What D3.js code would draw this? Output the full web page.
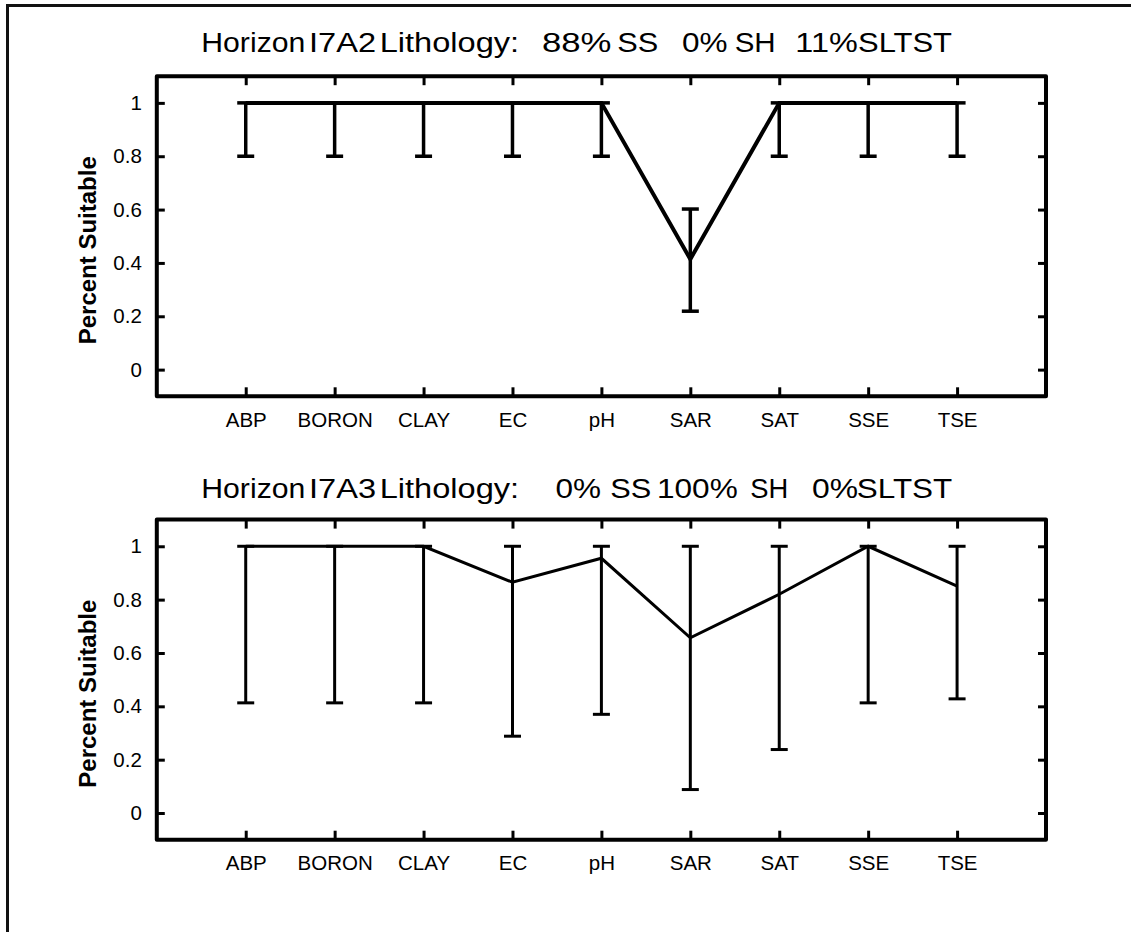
<!DOCTYPE html>
<html>
<head>
<meta charset="utf-8">
<script src="https://cdn.jsdelivr.net/npm/d3@7"></script>
<style>
  html, body { margin: 0; padding: 0; background: #fff; }
  svg { display: block; }
  text { font-family: "Liberation Sans", Arial, sans-serif; fill: #000; }
</style>
</head>
<body>
<svg id="chart" width="1131" height="932"></svg>
<script>
// ---- data ----
const categories = ["ABP", "BORON", "CLAY", "EC", "pH", "SAR", "SAT", "SSE", "TSE"];
const yTickValues = [0, 0.2, 0.4, 0.6, 0.8, 1];
const yTickLabels = ["0", "0.2", "0.4", "0.6", "0.8", "1"];
const yAxisTitle = "Percent Suitable";

// Horizon I7A2
const i7a2Title = ["Horizon", "I7A2", "Lithology:", "88%", "SS", "0%", "SH", "11%", "SLTST"];
const i7a2Mean  = [1, 1, 1, 1, 1, 0.414, 1, 1, 1];
const i7a2Lower = [0.8, 0.8, 0.8, 0.8, 0.8, 0.219, 0.8, 0.8, 0.8];
const i7a2Upper = [1, 1, 1, 1, 1, 0.602, 1, 1, 1];

// Horizon I7A3
const i7a3Title = ["Horizon", "I7A3", "Lithology:", "0%", "SS", "100%", "SH", "0%", "SLTST"];
const i7a3Mean  = [1, 1, 1, 0.865, 0.955, 0.657, 0.820, 1, 0.851];
const i7a3Lower = [0.413, 0.413, 0.413, 0.288, 0.370, 0.088, 0.238, 0.413, 0.428];
const i7a3Upper = [1, 1, 1, 1, 1, 1, 1, 1, 1];

// ---- layout ----
const svg = d3.select("#chart");
const plotLeft = 156.8, plotRight = 1046;
const plotHeight = 320.1;
const capHalf = 8.5;

// title words are laid out in fixed columns (start x, run width)
const panels = [
  { words: i7a2Title,
    wordX: [201.3, 309, 379.7, 542, 617.3, 682, 734.7, 795.3, 858],
    wordW: [104, 67, 139.5, 69.5, 41, 45.5, 41, 62.4, 94],
    titleY: 52.3, top: 76.2, mean: i7a2Mean, lower: i7a2Lower, upper: i7a2Upper,
    lineWidth: 4, barWidth: 3.5 },
  { words: i7a3Title,
    wordX: [201.3, 309, 379.7, 555.5, 610.2, 657, 750.2, 812, 856.8],
    wordW: [104, 67, 139.5, 45.5, 41, 80.7, 38, 46, 95.5],
    titleY: 497.7, top: 519.6, mean: i7a3Mean, lower: i7a3Lower, upper: i7a3Upper,
    lineWidth: 3, barWidth: 3 }
];

// outer page frame (left and top edges)
svg.append("path")
  .attr("d", "M7.5,932 V5.5 H1131")
  .attr("fill", "none")
  .attr("stroke", "#111")
  .attr("stroke-width", 3);

const x = d3.scalePoint().domain(categories).range([plotLeft, plotRight]).padding(1);

panels.forEach(p => {
  const bottom = p.top + plotHeight;
  const y = d3.scaleLinear().domain([-0.1, 1.1]).range([bottom, p.top]);
  const g = svg.append("g");

  // title, word by word
  g.selectAll("text.title")
    .data(p.words)
    .join("text")
    .attr("class", "title")
    .attr("x", (d, i) => p.wordX[i])
    .attr("y", p.titleY)
    .attr("textLength", (d, i) => p.wordW[i])
    .attr("lengthAdjust", "spacingAndGlyphs")
    .attr("font-size", 27)
    .text(d => d);

  // axes (ticks point inward)
  const styleAxis = sel => {
    sel.select(".domain").remove();
    sel.selectAll(".tick line").attr("stroke", "#000").attr("stroke-width", 3);
    sel.selectAll(".tick text").attr("font-size", 20.5).attr("fill", "#000")
      .attr("font-family", "\"Liberation Sans\", Arial, sans-serif");
  };

  g.append("g").attr("transform", `translate(${plotLeft},0)`)
    .call(d3.axisLeft(y).tickValues(yTickValues).tickFormat((d, i) => yTickLabels[i])
      .tickSize(-8).tickPadding(15))
    .call(styleAxis);

  g.append("g").attr("transform", `translate(${plotRight},0)`)
    .call(d3.axisRight(y).tickValues(yTickValues).tickFormat("").tickSize(-8))
    .call(styleAxis);

  g.append("g").attr("transform", `translate(0,${bottom})`)
    .call(d3.axisBottom(x).tickSize(-9).tickPadding(16))
    .call(styleAxis);

  g.append("g").attr("transform", `translate(0,${p.top})`)
    .call(d3.axisTop(x).tickSize(-9).tickFormat(""))
    .call(styleAxis);

  // plot frame
  g.append("rect")
    .attr("x", plotLeft).attr("y", p.top)
    .attr("width", plotRight - plotLeft).attr("height", plotHeight)
    .attr("fill", "none").attr("stroke", "#000").attr("stroke-width", 4)
    .attr("stroke-linejoin", "round");

  // y axis title
  g.append("text")
    .attr("transform", `translate(96,${p.top + plotHeight / 2 + 14}) rotate(-90)`)
    .attr("text-anchor", "middle")
    .attr("font-size", 24)
    .attr("font-weight", "bold")
    .text(yAxisTitle);

  // error bars
  const bars = g.append("g").attr("stroke", "#000").attr("stroke-width", p.barWidth).attr("fill", "none");
  categories.forEach((c, i) => {
    const cx = x(c);
    bars.append("line").attr("x1", cx).attr("x2", cx)
      .attr("y1", y(p.lower[i])).attr("y2", y(p.upper[i]));
    bars.append("line").attr("x1", cx - capHalf).attr("x2", cx + capHalf)
      .attr("y1", y(p.lower[i])).attr("y2", y(p.lower[i]));
    bars.append("line").attr("x1", cx - capHalf).attr("x2", cx + capHalf)
      .attr("y1", y(p.upper[i])).attr("y2", y(p.upper[i]));
  });

  // mean line
  const line = d3.line().x((d, i) => x(categories[i])).y(d => y(d));
  g.append("path")
    .datum(p.mean)
    .attr("d", line)
    .attr("fill", "none")
    .attr("stroke", "#000")
    .attr("stroke-width", p.lineWidth)
    .attr("stroke-linejoin", "miter");
});
</script>
</body>
</html>
